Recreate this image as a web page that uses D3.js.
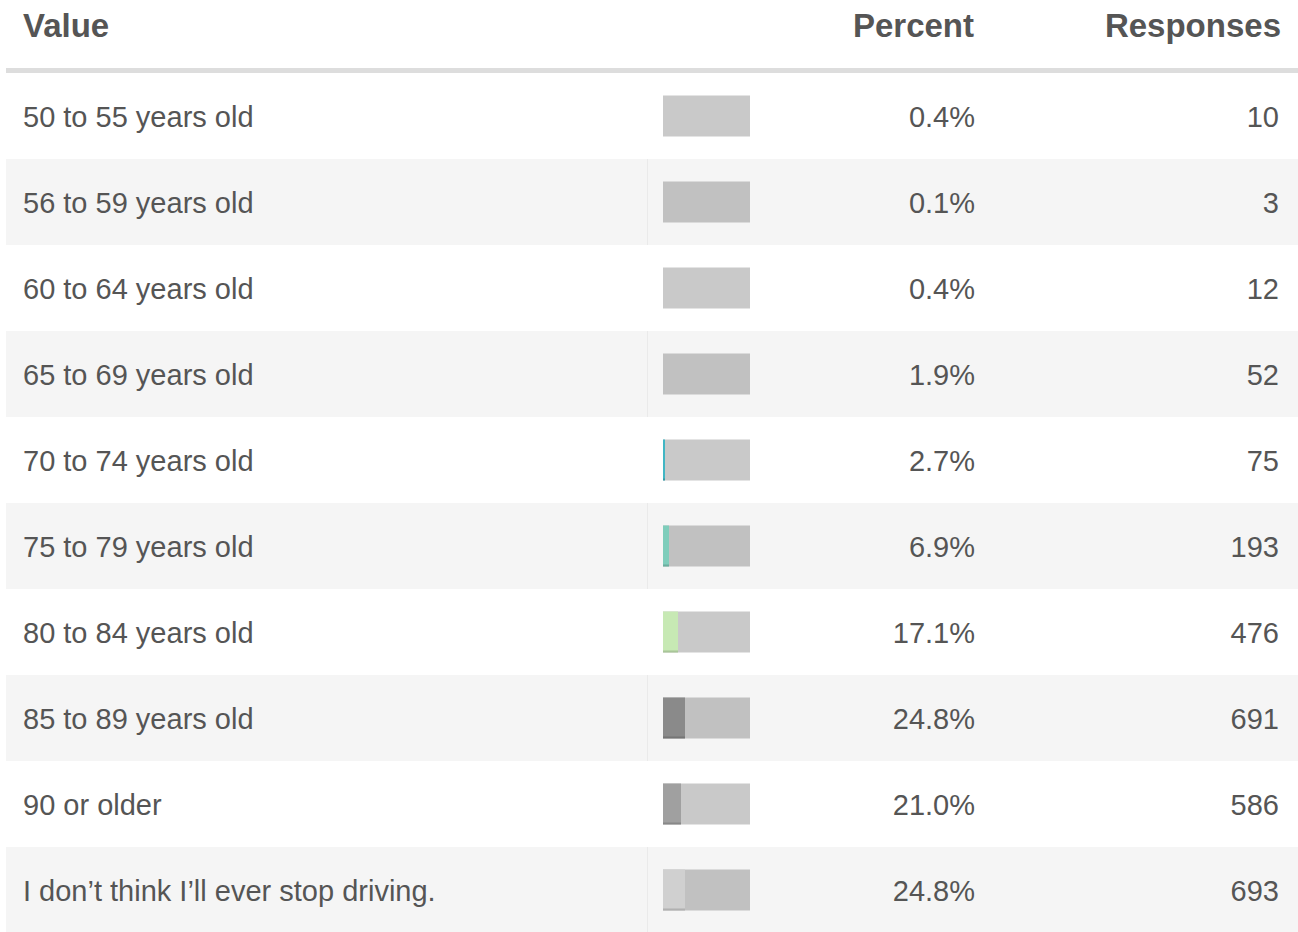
<!DOCTYPE html>
<html>
<head>
<meta charset="utf-8">
<script src="https://cdn.jsdelivr.net/npm/d3@7"></script>
<style>
  body { margin: 0; background: #fff; }
  svg { display: block; font-family: "Liberation Sans", Arial, Helvetica, sans-serif; }
</style>
</head>
<body>
<div id="table-chart"></div>
<script>
// data
const categories = ["50 to 55 years old", "56 to 59 years old", "60 to 64 years old", "65 to 69 years old",
  "70 to 74 years old", "75 to 79 years old", "80 to 84 years old", "85 to 89 years old",
  "90 or older", "I don\u2019t think I\u2019ll ever stop driving."];
const percents = [0.4, 0.1, 0.4, 1.9, 2.7, 6.9, 17.1, 24.8, 21.0, 24.8];
const responses = [10, 3, 12, 52, 75, 193, 476, 691, 586, 693];
// first four fills are not visible in the picture
const barColors = ["none", "none", "none", "none", "#41b6c4", "#7fcdbb", "#c7e9b4", "#8a8a8a", "#a0a0a0", "#d0d0d0"];
const headers = ["Value", "Percent", "Responses"];

const width = 1298;
const height = 932;
const top_rows = 73; // below header rule
const left = 6;
const text_color = "#555";

const svg = d3.select("#table-chart").append("svg").attr("width", width).attr("height", height);

const rows = categories.map((c, i) => ({cat: c, pct: percents[i], n: responses[i], color: barColors[i], i: i}));

const yScale = d3.scaleBand().domain(categories).range([top_rows, top_rows + 86 * categories.length]);
const barX = 663;
const xScale = d3.scaleLinear().domain([0, 100]).rangeRound([0, 87]);
const barH = 41;

// header
svg.append("rect").attr("x", left).attr("y", 68).attr("width", width - left).attr("height", 5).attr("fill", "#dddddd");
const headX = [23, 974, 1281];
const headAnchor = ["start", "end", "end"];
svg.selectAll("text.head").data(headers).enter()
  .append("text").attr("class", "head")
  .attr("x", (d, i) => headX[i]).attr("y", 37)
  .attr("text-anchor", (d, i) => headAnchor[i])
  .attr("font-size", 33).attr("font-weight", "bold").attr("fill", text_color)
  .text(d => d);

// striped rows
const g = svg.selectAll("g.row").data(rows).enter().append("g").attr("class", "row");

g.filter(d => d.i % 2 === 1).append("rect")
  .attr("x", left).attr("y", d => yScale(d.cat))
  .attr("width", width - left).attr("height", yScale.bandwidth())
  .attr("fill", "#f5f5f5");
g.filter(d => d.i % 2 === 1).append("rect")
  .attr("x", 647).attr("y", d => yScale(d.cat))
  .attr("width", 1).attr("height", yScale.bandwidth())
  .attr("fill", "#eaeaea");

const mid = d => yScale(d.cat) + yScale.bandwidth() / 2;

// background bar
g.append("rect")
  .attr("x", barX).attr("y", d => mid(d) - barH / 2)
  .attr("width", xScale(100)).attr("height", barH)
  .attr("fill", "rgba(0,0,0,0.21)");

// value bar
const shown = g.filter(d => d.color !== "none");
shown.append("rect")
  .attr("x", barX).attr("y", d => mid(d) - barH / 2)
  .attr("width", d => xScale(d.pct)).attr("height", barH)
  .attr("fill", d => d.color);
shown.append("rect")
  .attr("x", barX).attr("y", d => mid(d) + barH / 2 - 2)
  .attr("width", d => xScale(d.pct)).attr("height", 2)
  .attr("fill", "rgba(0,0,0,0.15)");

// texts
g.append("text").attr("x", 23).attr("y", d => mid(d) + 10.5)
  .attr("font-size", 29).attr("fill", text_color).text(d => d.cat);
g.append("text").attr("x", 975).attr("y", d => mid(d) + 10.5)
  .attr("text-anchor", "end").attr("font-size", 29).attr("fill", text_color)
  .text(d => d.pct.toFixed(1) + "%");
g.append("text").attr("x", 1279).attr("y", d => mid(d) + 10.5)
  .attr("text-anchor", "end").attr("font-size", 29).attr("fill", text_color)
  .text(d => d.n);
</script>
</body>
</html>
